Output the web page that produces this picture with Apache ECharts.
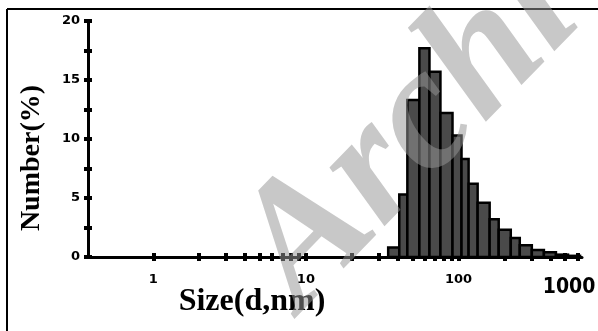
<!DOCTYPE html>
<html><head><meta charset="utf-8">
<script src="https://cdn.jsdelivr.net/npm/echarts@6/dist/echarts.min.js"></script>
<style>html,body{margin:0;padding:0;background:#fff}#c{width:598px;height:331px}</style>
</head><body><div id="c"></div>
<script>
// ---- data ----
const binEdgesNm = [34.6, 40.9, 46.2, 55.4, 64.5, 76.1, 91.3, 104.6, 116.4, 133.4, 159.9, 183.3, 219.9, 251.9, 302.1, 362.5, 434.6, 521.4, 625.5];
const numberPct  = [0.8, 5.3, 13.3, 17.7, 15.7, 12.2, 10.3, 8.3, 6.2, 4.6, 3.2, 2.3, 1.6, 1.0, 0.6, 0.4, 0.2, 0.1];
const xTickSizes = [1,2,3,4,5,6,7,8,9,10,20,30,40,50,60,70,80,90,100,200,300,400,500,600];
const xLabelSizes = [1, 10, 100, 530];
const xTickLabels = ['1', '10', '100', '1000'];
const yTickValues = [0, 2.5, 5, 7.5, 10, 12.5, 15, 17.5, 20];
const yLabelValues = [0, 5, 10, 15, 20];
const xRangeNm = [0.3736, 644];
const xTitle = 'Size(d,nm)';
const yTitle = 'Number(%)';
const watermark = 'Archive';

const lg = Math.log10;
const bins = numberPct.map((v, i) => [lg(binEdgesNm[i]), lg(binEdgesNm[i + 1]), v]);

const chart = echarts.init(document.getElementById('c'), null, {renderer: 'canvas'});
const tickFont = {color: '#000', fontFamily: 'DejaVu Sans', fontWeight: 'bold', fontSize: 13};
const tickStyle = {color: '#000', width: 4};
const xAxisBase = {
  type: 'value', min: lg(xRangeNm[0]), max: lg(xRangeNm[1]),
  position: 'bottom', splitLine: {show: false}
};
const yAxisBase = {type: 'value', min: 0, max: 20, position: 'left', splitLine: {show: false}};

chart.setOption({
  animation: false,
  grid: {left: 88, right: 16, top: 21, bottom: 74, containLabel: false, outerBoundsMode: 'none'},
  xAxis: [
    Object.assign({}, xAxisBase, {
      name: xTitle, nameLocation: 'middle', nameGap: 29, nameMoveOverlap: false,
      nameTextStyle: {fontFamily: 'Liberation Serif', fontWeight: 'bold', fontSize: 32, color: '#000', padding: [0, 166, 0, 0]},
      axisLine: {show: true, onZero: false, lineStyle: {color: '#000', width: 3}},
      axisTick: {show: true, length: 4, lineStyle: tickStyle, customValues: xTickSizes.map(lg)},
      axisLabel: {
        show: true, margin: 16, customValues: xLabelSizes.map(lg), hideOverlap: false,
        formatter: function (v) {
          let best = 0;
          xLabelSizes.forEach((s, i) => { if (Math.abs(lg(s) - v) < Math.abs(lg(xLabelSizes[best]) - v)) best = i; });
          return best === xLabelSizes.length - 1 ? '{big|' + xTickLabels[best] + '}' : xTickLabels[best];
        },
        ...tickFont,
        rich: {big: {fontFamily: "'Liberation Sans Narrow', 'DejaVu Sans Condensed', sans-serif", fontWeight: 'bold', fontSize: 21, color: '#000', padding: [4, 0, 0, 0]}}
      }
    }),
    Object.assign({}, xAxisBase, {
      axisLine: {show: false, onZero: false},
      axisTick: {show: true, inside: true, length: 4, lineStyle: tickStyle, customValues: xTickSizes.map(lg)},
      axisLabel: {show: false}
    })
  ],
  yAxis: [
    Object.assign({}, yAxisBase, {
      name: yTitle, nameLocation: 'middle', nameGap: 42, nameMoveOverlap: false,
      nameTextStyle: {fontFamily: 'Liberation Serif', fontWeight: 'bold', fontSize: 28, color: '#000', padding: [0, 38, 0, 0]},
      axisLine: {show: true, onZero: false, lineStyle: {color: '#000', width: 3}},
      axisTick: {show: true, length: 4, lineStyle: tickStyle, customValues: yTickValues},
      axisLabel: {show: true, margin: 8, customValues: yLabelValues, ...tickFont}
    }),
    Object.assign({}, yAxisBase, {
      axisLine: {show: false, onZero: false},
      axisTick: {show: true, inside: true, length: 4, lineStyle: tickStyle, customValues: yTickValues},
      axisLabel: {show: false}
    })
  ],
  series: [{
    type: 'custom',
    xAxisIndex: 0, yAxisIndex: 0,
    encode: {x: [0, 1], y: 2},
    data: bins,
    renderItem: function (params, api) {
      const p0 = api.coord([api.value(0), 0]);
      const p1 = api.coord([api.value(1), api.value(2)]);
      return {
        type: 'rect',
        shape: {x: p0[0], y: p1[1], width: p1[0] - p0[0], height: p0[1] - p1[1]},
        style: {fill: '#4a4a4a', stroke: '#000', lineWidth: 2.5}
      };
    }
  }],
  graphic: [
    {type: 'line', z: 100, shape: {x1: 7, y1: 9, x2: 598, y2: 9}, style: {stroke: '#000', lineWidth: 2}},
    {type: 'line', z: 100, shape: {x1: 7, y1: 9, x2: 7, y2: 331}, style: {stroke: '#000', lineWidth: 2}},
    {type: 'text', z: 200, x: 331, y: 342, rotation: 0.8,
     style: {text: watermark, fontFamily: 'Liberation Serif', fontStyle: 'italic', fontWeight: 'bold', fontSize: 175,
             fill: 'rgba(150,150,150,0.52)', textAlign: 'left', textVerticalAlign: 'bottom'}}
  ]
});
</script>
</body></html>
